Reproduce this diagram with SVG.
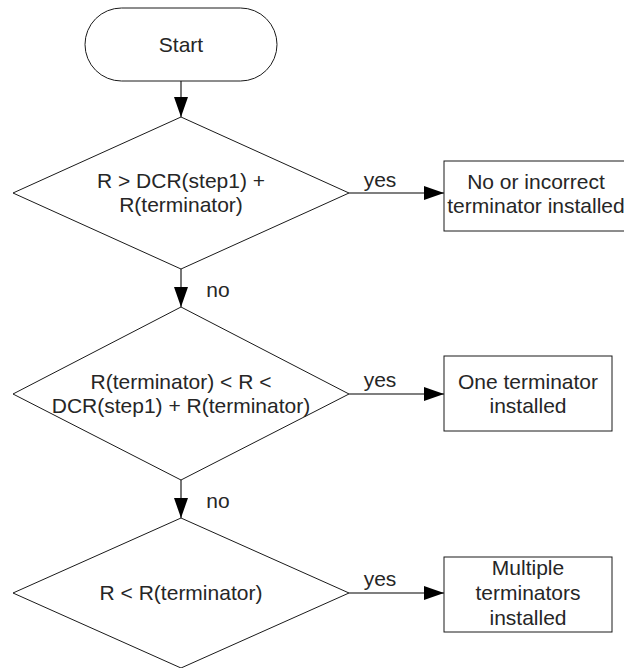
<svg xmlns="http://www.w3.org/2000/svg" width="624" height="668" viewBox="0 0 624 668">
  <style>
    .shape { fill: #ffffff; stroke: #1a1a1a; stroke-width: 1; }
    .conn { fill: none; stroke: #555555; stroke-width: 1.6; }
    text { font-family: "Liberation Sans", Arial, sans-serif; font-size: 21px; fill: #262626; text-anchor: middle; }
  </style>
  <defs>
    <marker id="arrow" markerUnits="userSpaceOnUse" markerWidth="20" markerHeight="14" refX="20" refY="7" orient="auto">
      <path d="M0,0 L20,7 L0,14 Z" fill="#000000"/>
    </marker>
  </defs>
  <rect width="624" height="668" fill="#ffffff"/>

  <!-- connectors -->
  <g id="connectors">
    <line class="conn" x1="181" y1="81" x2="181" y2="117" marker-end="url(#arrow)"/>
    <line class="conn" x1="349" y1="193" x2="444" y2="193" marker-end="url(#arrow)"/>
    <line class="conn" x1="181" y1="269" x2="181" y2="307" marker-end="url(#arrow)"/>
    <line class="conn" x1="349" y1="394" x2="444" y2="394" marker-end="url(#arrow)"/>
    <line class="conn" x1="181" y1="480" x2="181" y2="518" marker-end="url(#arrow)"/>
    <line class="conn" x1="349" y1="593" x2="444" y2="593" marker-end="url(#arrow)"/>
    <text x="380" y="187">yes</text>
    <text x="218" y="297">no</text>
    <text x="380" y="387">yes</text>
    <text x="218" y="508">no</text>
    <text x="380" y="586">yes</text>
  </g>

  <!-- start terminal -->
  <g id="start">
    <rect class="shape" x="85" y="8" width="192" height="73" rx="36.5" ry="36.5"/>
    <text x="181" y="52">Start</text>
  </g>

  <!-- decision 1 -->
  <g id="decision1">
    <polygon class="shape" points="181,117 349,193 181,269 13,193"/>
    <text x="181" y="188">R &gt; DCR(step1) +</text>
    <text x="181" y="212">R(terminator)</text>
  </g>

  <!-- result 1 -->
  <g id="result1">
    <rect class="shape" x="444" y="161" width="184" height="70"/>
    <text x="536" y="189">No or incorrect</text>
    <text x="536" y="213">terminator installed</text>
  </g>

  <!-- decision 2 -->
  <g id="decision2">
    <polygon class="shape" points="181,307 349,394 181,480 13,394"/>
    <text x="181" y="389">R(terminator) &lt; R &lt;</text>
    <text x="181" y="413">DCR(step1) + R(terminator)</text>
  </g>

  <!-- result 2 -->
  <g id="result2">
    <rect class="shape" x="444" y="356" width="168" height="75"/>
    <text x="528" y="389">One terminator</text>
    <text x="528" y="413">installed</text>
  </g>

  <!-- decision 3 -->
  <g id="decision3">
    <polygon class="shape" points="181,518 349,593 181,668 13,593"/>
    <text x="181" y="600">R &lt; R(terminator)</text>
  </g>

  <!-- result 3 -->
  <g id="result3">
    <rect class="shape" x="444" y="557" width="168" height="75"/>
    <text x="528" y="575">Multiple</text>
    <text x="528" y="600">terminators</text>
    <text x="528" y="625">installed</text>
  </g>
</svg>
